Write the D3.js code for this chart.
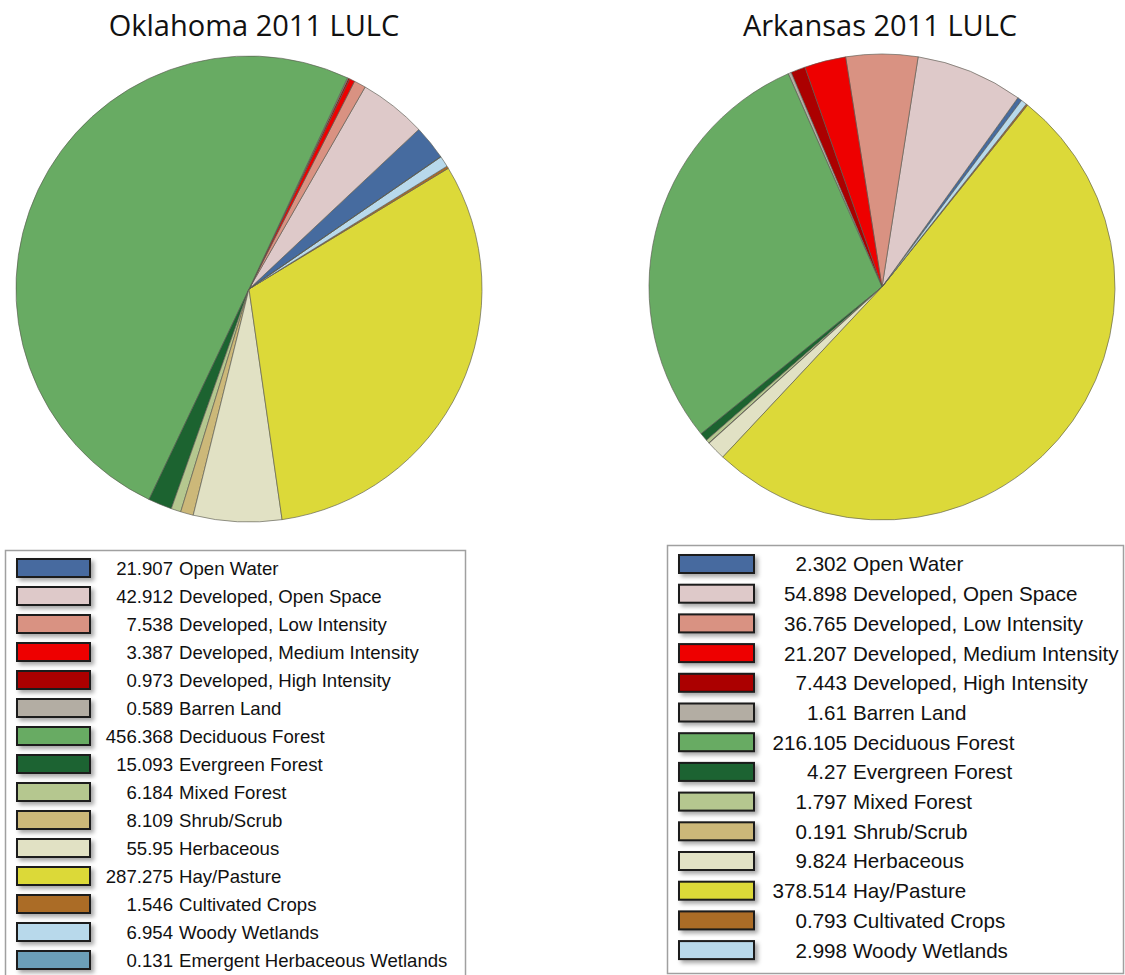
<!DOCTYPE html>
<html>
<head>
<meta charset="utf-8">
<script src="https://cdn.jsdelivr.net/npm/d3@7"></script>
<style>
  body { margin: 0; background: #fff; }
  svg { display: block; }
</style>
</head>
<body>
<div id="chart"></div>
<script>
// land cover classes (legend order), shared by both states
const categories = [
  'Open Water', 'Developed, Open Space', 'Developed, Low Intensity',
  'Developed, Medium Intensity', 'Developed, High Intensity', 'Barren Land',
  'Deciduous Forest', 'Evergreen Forest', 'Mixed Forest', 'Shrub/Scrub',
  'Herbaceous', 'Hay/Pasture', 'Cultivated Crops', 'Woody Wetlands',
  'Emergent Herbaceous Wetlands'
];
const classColors = [
  '#466b9f', '#dec9c9', '#d99282', '#ee0000', '#ab0000', '#b3ada3',
  '#68ab63', '#1c6330', '#b5c78f', '#ccb879', '#e1e1c4', '#dcd939',
  '#ab6c28', '#b8d9eb', '#6c9fb8'
];
const okValues = [21.907, 42.912, 7.538, 3.387, 0.973, 0.589, 456.368, 15.093,
  6.184, 8.109, 55.95, 287.275, 1.546, 6.954, 0.131];
const arValues = [2.302, 54.898, 36.765, 21.207, 7.443, 1.61, 216.105, 4.27,
  1.797, 0.191, 9.824, 378.514, 0.793, 2.998];

const W = 1125, H = 975;
const svg = d3.select('#chart').append('svg')
  .attr('width', W).attr('height', H)
  .style('font-family', '"Liberation Sans", Arial, sans-serif');

// soft shadow behind legend swatches
const defs = svg.append('defs');
const f = defs.append('filter').attr('id', 'sw-shadow')
  .attr('x', '-20%').attr('y', '-40%').attr('width', '150%').attr('height', '200%');
f.append('feDropShadow').attr('dx', 3).attr('dy', 3).attr('stdDeviation', 2)
  .attr('flood-color', '#000').attr('flood-opacity', 0.35);

const charts = [
  { title: 'Oklahoma 2011 LULC', values: okValues, cx: 249, cy: 289, r: 233, start: 55.4, titleX: 254,
    legend: { x: 5, y: 550, w: 460, h: 440, row0: 568, step: 28, swX: 17, swW: 73, swH: 18, numX: 173, font: 18.6 } },
  { title: 'Arkansas 2011 LULC', values: arValues, cx: 882, cy: 287, r: 233, start: 36.8, titleX: 880,
    legend: { x: 667, y: 545, w: 456, h: 428, row0: 564, step: 29.7, swX: 679, swW: 75, swH: 18, numX: 847, font: 20.6 } }
];

charts.forEach(c => {
  const a0 = c.start * Math.PI / 180;
  // slices run counter-clockwise in legend order
  const pie = d3.pie().sort(null).value(d => d.value)
    .startAngle(a0).endAngle(a0 - 2 * Math.PI);
  const arc = d3.arc().innerRadius(0).outerRadius(c.r);
  const rows = c.values.map((v, i) => ({ name: categories[i], value: v, color: classColors[i] }));

  svg.append('text')
    .attr('x', c.titleX).attr('y', 36)
    .attr('text-anchor', 'middle')
    .style('font-family', '"Open Sans", "Noto Sans", sans-serif')
    .style('font-size', '29px')
    .attr('fill', '#111')
    .text(c.title);

  const g = svg.append('g').attr('transform', `translate(${c.cx},${c.cy})`);
  g.selectAll('path')
    .data(pie(rows))
    .join('path')
    .attr('d', arc)
    .attr('fill', d => d.data.color)
    .attr('stroke', '#5a5a50')
    .attr('stroke-opacity', 0.8)
    .attr('stroke-width', 0.8);

  // legend box
  const L = c.legend;
  svg.append('rect')
    .attr('x', L.x + 0.5).attr('y', L.y + 0.5)
    .attr('width', L.w).attr('height', L.h)
    .attr('fill', '#fff').attr('stroke', '#a0a0a0').attr('stroke-width', 1.5);

  const items = svg.append('g').selectAll('g')
    .data(rows)
    .join('g')
    .attr('transform', (d, i) => `translate(0,${L.row0 + i * L.step})`);

  items.append('rect')
    .attr('x', L.swX).attr('y', -L.swH / 2)
    .attr('width', L.swW).attr('height', L.swH)
    .attr('fill', d => d.color)
    .attr('stroke', '#1a1a1a').attr('stroke-width', 2)
    .attr('filter', 'url(#sw-shadow)');

  items.append('text')
    .attr('x', L.numX).attr('y', 0).attr('dy', '0.36em')
    .attr('text-anchor', 'end')
    .style('font-size', L.font + 'px')
    .attr('fill', '#111')
    .text(d => d.value);

  items.append('text')
    .attr('x', L.numX + 6).attr('y', 0).attr('dy', '0.36em')
    .style('font-size', L.font + 'px')
    .attr('fill', '#111')
    .text(d => d.name);
});
</script>
</body>
</html>
